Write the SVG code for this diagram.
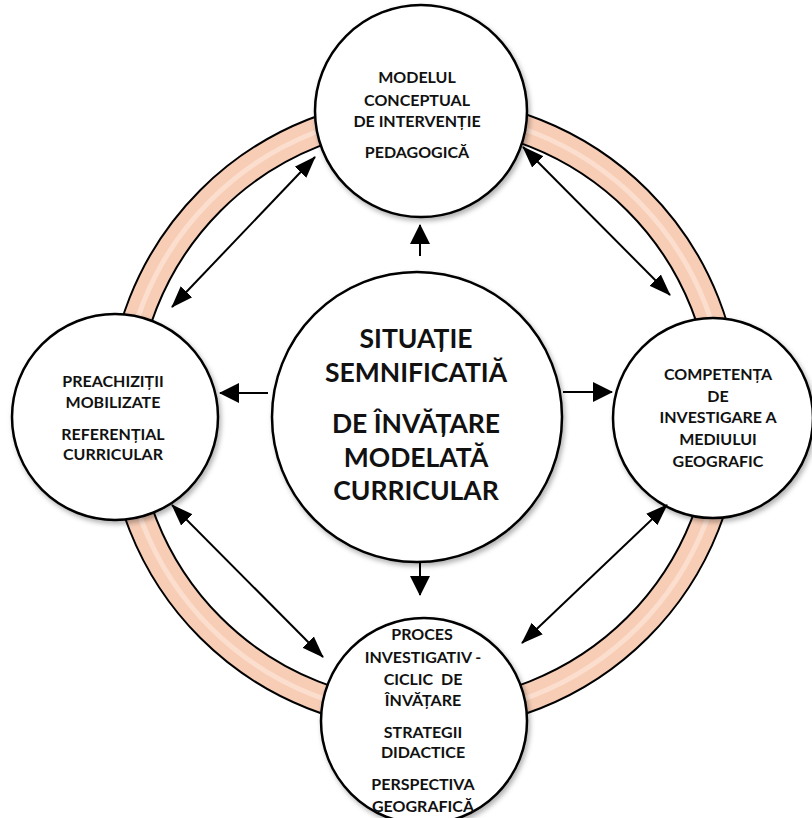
<svg xmlns="http://www.w3.org/2000/svg" width="812" height="818" viewBox="0 0 812 818">
<style>
.node{fill:#fff;stroke:#000;stroke-width:2.5;filter:url(#sh)}
.t{font-family:Lato,"Open Sans","DejaVu Sans",sans-serif;font-weight:bold;fill:#111;text-anchor:middle}
.s{font-size:16px}
.b{font-size:26.5px}
.c{stroke:#000;stroke-width:2;fill:none}
</style>
<defs>
<filter id="sh" x="-20%" y="-20%" width="140%" height="140%">
<feDropShadow dx="2" dy="3" stdDeviation="2.5" flood-color="#000" flood-opacity="0.3"/>
</filter>
<marker id="ah" markerUnits="userSpaceOnUse" markerWidth="22" markerHeight="18" refX="21" refY="8" orient="auto-start-reverse" viewBox="0 0 22 16">
<path d="M0,0 L22,8 L0,16 z" fill="#000"/>
</marker>
<marker id="ah2" markerUnits="userSpaceOnUse" markerWidth="20" markerHeight="20" refX="19" refY="10" orient="auto" viewBox="0 0 20 20">
<path d="M0,0 L20,10 L0,20 z" fill="#000"/>
</marker>
</defs>
<rect width="812" height="818" fill="#fff"/>
<g id="ring" fill="none">
<circle cx="424" cy="414" r="302" stroke="#000" stroke-width="31"/>
<circle cx="424" cy="414" r="302" stroke="#f7cdb6" stroke-width="27"/>
<circle cx="424" cy="414" r="302" stroke="#fde9dd" stroke-width="5" opacity="0.6"/>
</g>
<g id="n-center">
<circle class="node" cx="417" cy="417" r="145"/>
<text class="t b" x="416" y="348">SITUAȚIE</text>
<text class="t b" x="416" y="382">SEMNIFICATIĂ</text>
<text class="t b" x="416" y="433">DE ÎNVĂȚARE</text>
<text class="t b" x="416" y="467">MODELATĂ</text>
<text class="t b" x="416" y="500">CURRICULAR</text>
</g>
<g id="n-top">
<circle class="node" cx="421" cy="111" r="106"/>
<text class="t s" x="417" y="83">MODELUL</text>
<text class="t s" x="417" y="106">CONCEPTUAL</text>
<text class="t s" x="417" y="127">DE INTERVENȚIE</text>
<text class="t s" x="417" y="158">PEDAGOGICĂ</text>
</g>
<g id="n-left">
<circle class="node" cx="115" cy="417" r="103"/>
<text class="t s" x="113" y="387">PREACHIZIȚII</text>
<text class="t s" x="113" y="408">MOBILIZATE</text>
<text class="t s" x="113" y="440">REFERENȚIAL</text>
<text class="t s" x="113" y="460">CURRICULAR</text>
</g>
<g id="n-right">
<circle class="node" cx="713" cy="418" r="100"/>
<text class="t s" x="718" y="380">COMPETENȚA</text>
<text class="t s" x="718" y="402">DE</text>
<text class="t s" x="718" y="423">INVESTIGARE A</text>
<text class="t s" x="718" y="445">MEDIULUI</text>
<text class="t s" x="718" y="467">GEOGRAFIC</text>
</g>
<g id="n-bottom">
<circle class="node" cx="424" cy="721" r="103"/>
<text class="t s" x="422" y="640">PROCES</text>
<text class="t s" x="423" y="663">INVESTIGATIV -</text>
<text class="t s" x="423" y="685" xml:space="preserve">CICLIC  DE</text>
<text class="t s" x="423" y="706">ÎNVĂȚARE</text>
<text class="t s" x="423" y="738">STRATEGII</text>
<text class="t s" x="423" y="758">DIDACTICE</text>
<text class="t s" x="423" y="790">PERSPECTIVA</text>
<text class="t s" x="423" y="812">GEOGRAFICĂ</text>
</g>
<g id="connectors">
<line class="c" x1="420" y1="256" x2="420" y2="225" marker-end="url(#ah2)"/>
<line class="c" x1="420" y1="562" x2="420" y2="595" marker-end="url(#ah2)"/>
<line class="c" x1="268" y1="393" x2="220" y2="393" marker-end="url(#ah2)"/>
<line class="c" x1="563" y1="392" x2="612" y2="392" marker-end="url(#ah2)"/>
<line class="c" x1="172" y1="307" x2="315" y2="157" marker-start="url(#ah)" marker-end="url(#ah)"/>
<line class="c" x1="523" y1="147" x2="670" y2="295" marker-start="url(#ah)" marker-end="url(#ah)"/>
<line class="c" x1="172" y1="505" x2="323" y2="657" marker-start="url(#ah)" marker-end="url(#ah)"/>
<line class="c" x1="667" y1="505" x2="522" y2="643" marker-start="url(#ah)" marker-end="url(#ah)"/>
</g>
</svg>
